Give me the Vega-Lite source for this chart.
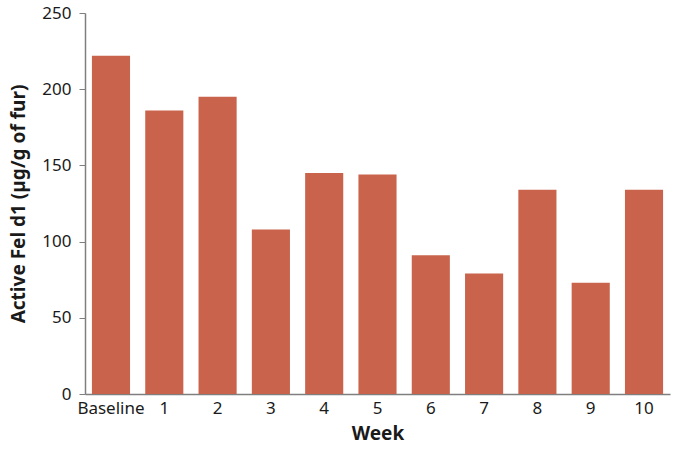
{
  "$schema": "https://vega.github.io/schema/vega-lite/v6.json",
  "autosize": {"type": "none"},
  "padding": {"left": 85, "top": 13, "right": 10, "bottom": 56},
  "width": 585,
  "height": 381,
  "data": {"values": [
    {"week": "Baseline", "value": 222},
    {"week": "1", "value": 186},
    {"week": "2", "value": 195},
    {"week": "3", "value": 108},
    {"week": "4", "value": 145},
    {"week": "5", "value": 144},
    {"week": "6", "value": 91},
    {"week": "7", "value": 79},
    {"week": "8", "value": 134},
    {"week": "9", "value": 73},
    {"week": "10", "value": 134}
  ]},
  "config": {
    "view": {"stroke": null},
    "font": "Noto Sans",
    "axis": {"grid": false, "domainColor": "#7f7f7f", "tickColor": "#7f7f7f", "labelColor": "#1a1a1a", "titleColor": "#1a1a1a", "labelFontSize": 17, "titleFontSize": 19, "titleFontWeight": "bold", "domainWidth": 1.5}
  },
  "mark": {"type": "bar", "color": "#C9634B"},
  "encoding": {
    "x": {"field": "week", "type": "ordinal", "sort": null, "title": "Week",
      "scale": {"paddingInner": 0.285, "paddingOuter": 0.13},
      "axis": {"labelAngle": 0, "ticks": false, "labelPadding": 6, "titlePadding": 8}},
    "y": {"field": "value", "type": "quantitative", "title": "Active Fel d1 (µg/g of fur)",
      "scale": {"domain": [0, 250]},
      "axis": {"values": [0, 50, 100, 150, 200, 250], "tickSize": 6, "labelPadding": 8, "titlePadding": 13}}
  }
}
